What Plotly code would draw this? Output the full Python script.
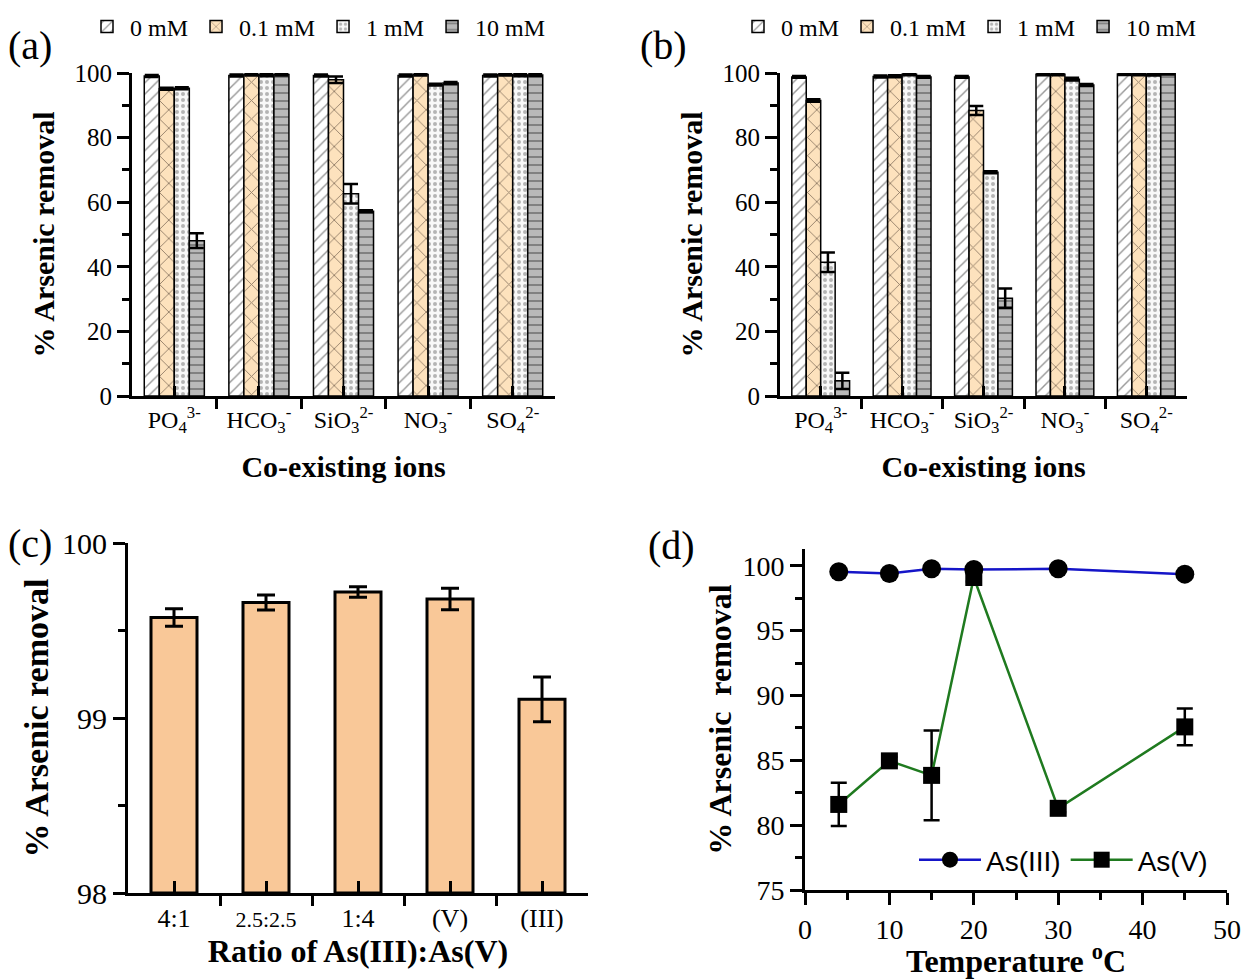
import plotly.graph_objects as go

# ---------------- data ----------------
ions = ["PO<sub>4</sub><sup>3-</sup>", "HCO<sub>3</sub><sup>-</sup>", "SiO<sub>3</sub><sup>2-</sup>",
        "NO<sub>3</sub><sup>-</sup>", "SO<sub>4</sub><sup>2-</sup>"]
doses = ["0 mM", "0.1 mM", "1 mM", "10 mM"]

# (a) As(III) removal with co-existing ions
a_0mM = [99.1, 99.2, 99.2, 99.2, 99.2]
a_01mM = [95.1, 99.5, 97.9, 99.5, 99.5]
a_1mM = [95.3, 99.3, 62.6, 96.4, 99.3]
a_10mM = [48.1, 99.5, 57.2, 96.9, 99.4]
a_0mM_err = [0.3, 0.3, 0.3, 0.3, 0.3]
a_01mM_err = [0.3, 0.3, 1.0, 0.3, 0.3]
a_1mM_err = [0.3, 0.3, 3.0, 0.3, 0.3]
a_10mM_err = [2.3, 0.3, 0.3, 0.3, 0.3]

# (b) As(V) removal with co-existing ions
b_0mM = [98.8, 98.9, 98.8, 99.6, 99.7]
b_01mM = [91.5, 99.0, 88.4, 99.6, 99.6]
b_1mM = [41.4, 99.6, 69.3, 98.1, 99.5]
b_10mM = [4.7, 98.8, 30.3, 96.3, 99.8]
b_0mM_err = [0.3, 0.3, 0.3, 0.3, 0.3]
b_01mM_err = [0.4, 0.3, 1.4, 0.3, 0.3]
b_1mM_err = [3.0, 0.3, 0.3, 0.4, 0.3]
b_10mM_err = [2.5, 0.3, 3.0, 0.3, 0.3]

# (c) mixed arsenic species
c_ratios = ["4:1", "2.5:2.5", "1:4", "(V)", "(III)"]
c_vals = [99.575, 99.66, 99.72, 99.68, 99.107]
c_err = [0.05, 0.043, 0.03, 0.062, 0.128]

# (d) temperature effect
d_temp = [4, 10, 15, 20, 30, 45]
d_as3 = [99.54, 99.41, 99.77, 99.72, 99.77, 99.36]
d_as5 = [81.6, 84.96, 83.84, 99.1, 81.3, 87.58]
d_as5_err = [1.67, 0.3, 3.47, 0.3, 0.3, 1.42]

# ---------------- styles ----------------
SERIF = "Liberation Serif"
SANS = "Liberation Sans"
W, H = 1244, 979
C_FLOOR = 98

dose_styles = [
    dict(bg="#ffffff", fg="#303030", shape="/", size=8, solidity=0.18),
    dict(bg="#fde2bd", fg="#2e2018", shape="x", size=13, solidity=0.14),
    dict(bg="#f8f8f8", fg="#707070", shape=".", size=6, solidity=0.35),
    dict(bg="#b9b9b9", fg="#4a4a4a", shape="-", size=8, solidity=0.25),
]

fig = go.Figure()

def add_group(vals_list, errs_list, xa, ya, legend):
    for name, vals, errs, st in zip(doses, vals_list, errs_list, dose_styles):
        fig.add_trace(go.Bar(
            x=list(range(len(ions))), y=vals, name=name,
            xaxis=xa, yaxis=ya, legend=legend,
            marker=dict(color=st["bg"], line=dict(color="black", width=1.5),
                        pattern=dict(shape=st["shape"], fgcolor=st["fg"], bgcolor=st["bg"],
                                     size=st["size"], solidity=st["solidity"],
                                     fillmode="overlay")),
            error_y=dict(type="data", array=errs, color="black", thickness=2.5, width=7),
        ))

add_group([a_0mM, a_01mM, a_1mM, a_10mM], [a_0mM_err, a_01mM_err, a_1mM_err, a_10mM_err],
          "x", "y", "legend")
add_group([b_0mM, b_01mM, b_1mM, b_10mM], [b_0mM_err, b_01mM_err, b_1mM_err, b_10mM_err],
          "x2", "y2", "legend2")

# bars rise from the axis floor (98 %)
fig.add_trace(go.Bar(
    x=list(range(len(c_ratios))), y=[v - C_FLOOR for v in c_vals], base=C_FLOOR,
    width=0.5, xaxis="x3", yaxis="y3", showlegend=False,
    marker=dict(color="#f9c898", line=dict(color="black", width=3)),
    error_y=dict(type="data", array=c_err, color="black", thickness=3, width=9),
))

fig.add_trace(go.Scatter(
    x=d_temp, y=d_as3, name="As(III)", mode="lines+markers", xaxis="x4", yaxis="y4",
    legend="legend3",
    line=dict(color="#1515c8", width=2.5),
    marker=dict(symbol="circle", size=19, color="black"),
))
fig.add_trace(go.Scatter(
    x=d_temp, y=d_as5, name="As(V)", mode="lines+markers", xaxis="x4", yaxis="y4",
    legend="legend3",
    line=dict(color="#1f7a1f", width=2.5),
    marker=dict(symbol="square", size=17, color="black"),
    error_y=dict(type="data", array=d_as5_err, color="black", thickness=2.5, width=8),
))

# ---------------- axes ----------------
def font(size, fam=SERIF):
    return dict(family=fam, size=size, color="black")

def base_axis(tsize, **kw):
    d = dict(showline=True, linecolor="black", linewidth=3, ticks="outside",
             tickwidth=3, ticklen=12, tickcolor="black", tickfont=font(tsize),
             showgrid=False, zeroline=False, mirror=False, fixedrange=True,
             automargin=False)
    d.update(kw)
    return d

def px_x(a, b):
    return [a / W, b / W]

def px_y(top, bottom):
    return [1 - bottom / H, 1 - top / H]

cat_minor = dict(ticks="outside", tick0=-0.5, dtick=1, ticklen=10, tickwidth=3, tickcolor="black")

def val_minor(dt, t0=0):
    return dict(ticks="outside", tick0=t0, dtick=dt, ticklen=7, tickwidth=3, tickcolor="black")

# the long ratio label is set a little smaller
c_ticktext = [f"<span style='font-size:22px'>{t}</span>" if len(t) > 5 else t for t in c_ratios]

fig.update_layout(
    xaxis=base_axis(24, domain=px_x(132, 555), anchor="y", range=[-0.5, 4.5],
                    tickmode="array", tickvals=list(range(5)), ticktext=ions,
                    ticks="inside", ticklen=10, minor=cat_minor,
                    title=dict(text="<b>Co-existing ions</b>", font=font(30), standoff=21)),
    yaxis=base_axis(25, domain=px_y(73, 396), anchor="x", range=[0, 100], dtick=20,
                    minor=val_minor(10),
                    title=dict(text="<b>% Arsenic removal</b>", font=font(30), standoff=12)),
    xaxis2=base_axis(24, domain=px_x(780, 1187), anchor="y2", range=[-0.5, 4.5],
                     tickmode="array", tickvals=list(range(5)), ticktext=ions,
                     ticks="inside", ticklen=10, minor=cat_minor,
                     title=dict(text="<b>Co-existing ions</b>", font=font(30), standoff=21)),
    yaxis2=base_axis(25, domain=px_y(73, 396), anchor="x2", range=[0, 100], dtick=20,
                     minor=val_minor(10),
                     title=dict(text="<b>% Arsenic removal</b>", font=font(30), standoff=12)),
    xaxis3=base_axis(26, domain=px_x(128, 588), anchor="y3", range=[-0.5, 4.5],
                     tickmode="array", tickvals=list(range(5)), ticktext=c_ticktext,
                     ticks="inside", ticklen=12, minor=cat_minor,
                     title=dict(text="<b>Ratio of As(III):As(V)</b>", font=font(32), standoff=0)),
    yaxis3=base_axis(30, domain=px_y(543, 893), anchor="x3", range=[98, 100], dtick=1,
                     minor=val_minor(0.5),
                     title=dict(text="<b>% Arsenic removal</b>", font=font(34), standoff=4)),
    xaxis4=base_axis(28, domain=px_x(805, 1227), anchor="y4", range=[0, 50], dtick=10,
                     minor=val_minor(5),
                     title=dict(text="<b>Temperature <sup>o</sup>C</b>", font=font(32), standoff=4)),
    yaxis4=base_axis(28, domain=px_y(549, 890), anchor="x4", range=[75, 101.3], dtick=5,
                     tick0=75, minor=val_minor(2.5, 75),
                     title=dict(text="<b>% Arsenic  removal</b>", font=font(32), standoff=2)),
    barmode="group", bargap=0.29, bargroupgap=0,
    legend=dict(orientation="h", x=84 / W, y=1 - 27 / H, xanchor="left", yanchor="middle",
                font=font(24), bgcolor="rgba(0,0,0,0)", itemwidth=36),
    legend2=dict(orientation="h", x=735 / W, y=1 - 27 / H, xanchor="left", yanchor="middle",
                 font=font(24), bgcolor="rgba(0,0,0,0)", itemwidth=36),
    legend3=dict(orientation="h", x=914 / W, y=1 - 860 / H, xanchor="left", yanchor="middle",
                 font=font(28, SANS), bgcolor="rgba(0,0,0,0)", itemwidth=62),
    width=W, height=H, autosize=False,
    margin=dict(l=0, r=0, t=0, b=0),
    paper_bgcolor="white", plot_bgcolor="white",
)

# panel letters
for txt, x, y in [("(a)", 6, 45), ("(b)", 638, 45), ("(c)", 6, 543), ("(d)", 646, 545)]:
    fig.add_annotation(text=txt, x=x / W, y=1 - y / H, xref="paper", yref="paper",
                       xanchor="left", yanchor="middle", showarrow=False,
                       font=font(40))

fig.write_html("out.html")
